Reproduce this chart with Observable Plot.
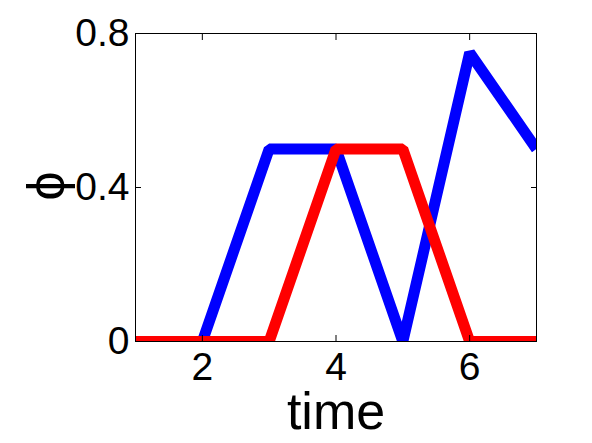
<!DOCTYPE html>
<html>
<head>
<meta charset="utf-8">
<script src="https://cdn.jsdelivr.net/npm/d3@7"></script>
<script src="https://cdn.jsdelivr.net/npm/@observablehq/plot@0.6"></script>
<style>
  html, body { margin: 0; padding: 0; background: #fff; }
</style>
</head>
<body>
<div id="chart"></div>
<script>
const time = [1, 2, 3, 4, 5, 6, 7];
const bluePhi = [0, 0, 0.5, 0.5, 0, 0.75, 0.5];
const redPhi = [0, 0, 0, 0.5, 0.5, 0, 0];
const xTicks = [2, 4, 6];
const yTicks = [0, 0.4, 0.8];
const xLabel = "time";
const yLabel = "ϕ";

const blue = time.map((t, i) => ({t, v: bluePhi[i]}));
const red = time.map((t, i) => ({t, v: redPhi[i]}));

const font = "'Liberation Sans', Arial, Helvetica, sans-serif";

const chart = Plot.plot({
  width: 592,
  height: 443,
  marginLeft: 135,
  marginRight: 56,
  marginTop: 33,
  marginBottom: 102,
  style: {fontFamily: font, background: "white", color: "black"},
  x: {domain: [1, 7], axis: null},
  y: {domain: [0, 0.8], axis: null},
  marks: [
    Plot.line(blue, {x: "t", y: "v", stroke: "#0000ff", strokeWidth: 11, strokeLinejoin: "bevel", strokeLinecap: "butt", clip: true}),
    Plot.line(red, {x: "t", y: "v", stroke: "#ff0000", strokeWidth: 11, strokeLinejoin: "bevel", strokeLinecap: "butt", clip: true}),
    Plot.axisX(xTicks, {anchor: "bottom", tickSize: -6, tickFormat: () => "", label: null}),
    Plot.axisX(xTicks, {anchor: "top", tickSize: -6, tickFormat: () => "", label: null}),
    Plot.axisY(yTicks, {anchor: "left", tickSize: -6, tickFormat: () => "", label: null}),
    Plot.axisY(yTicks, {anchor: "right", tickSize: -6, tickFormat: () => "", label: null}),
    Plot.frame({stroke: "black", strokeWidth: 1}),
    Plot.text(xTicks, {x: d => d, frameAnchor: "bottom", dy: 11, lineAnchor: "top", text: d => String(d), fontSize: 39, fill: "black"}),
    Plot.text(yTicks, {y: d => d, frameAnchor: "left", dx: -6, textAnchor: "end", lineAnchor: "middle", text: d => String(d), fontSize: 39, fill: "black"}),
    Plot.text([xLabel], {frameAnchor: "bottom", dy: 87, lineAnchor: "bottom", text: d => d, fontSize: 52, fill: "black"}),
    Plot.text([yLabel], {frameAnchor: "left", dx: -88, dy: 13, rotate: -90, lineAnchor: "middle", text: d => d, fontSize: 52, fill: "black"})
  ]
});
document.getElementById("chart").appendChild(chart);
</script>
</body>
</html>
